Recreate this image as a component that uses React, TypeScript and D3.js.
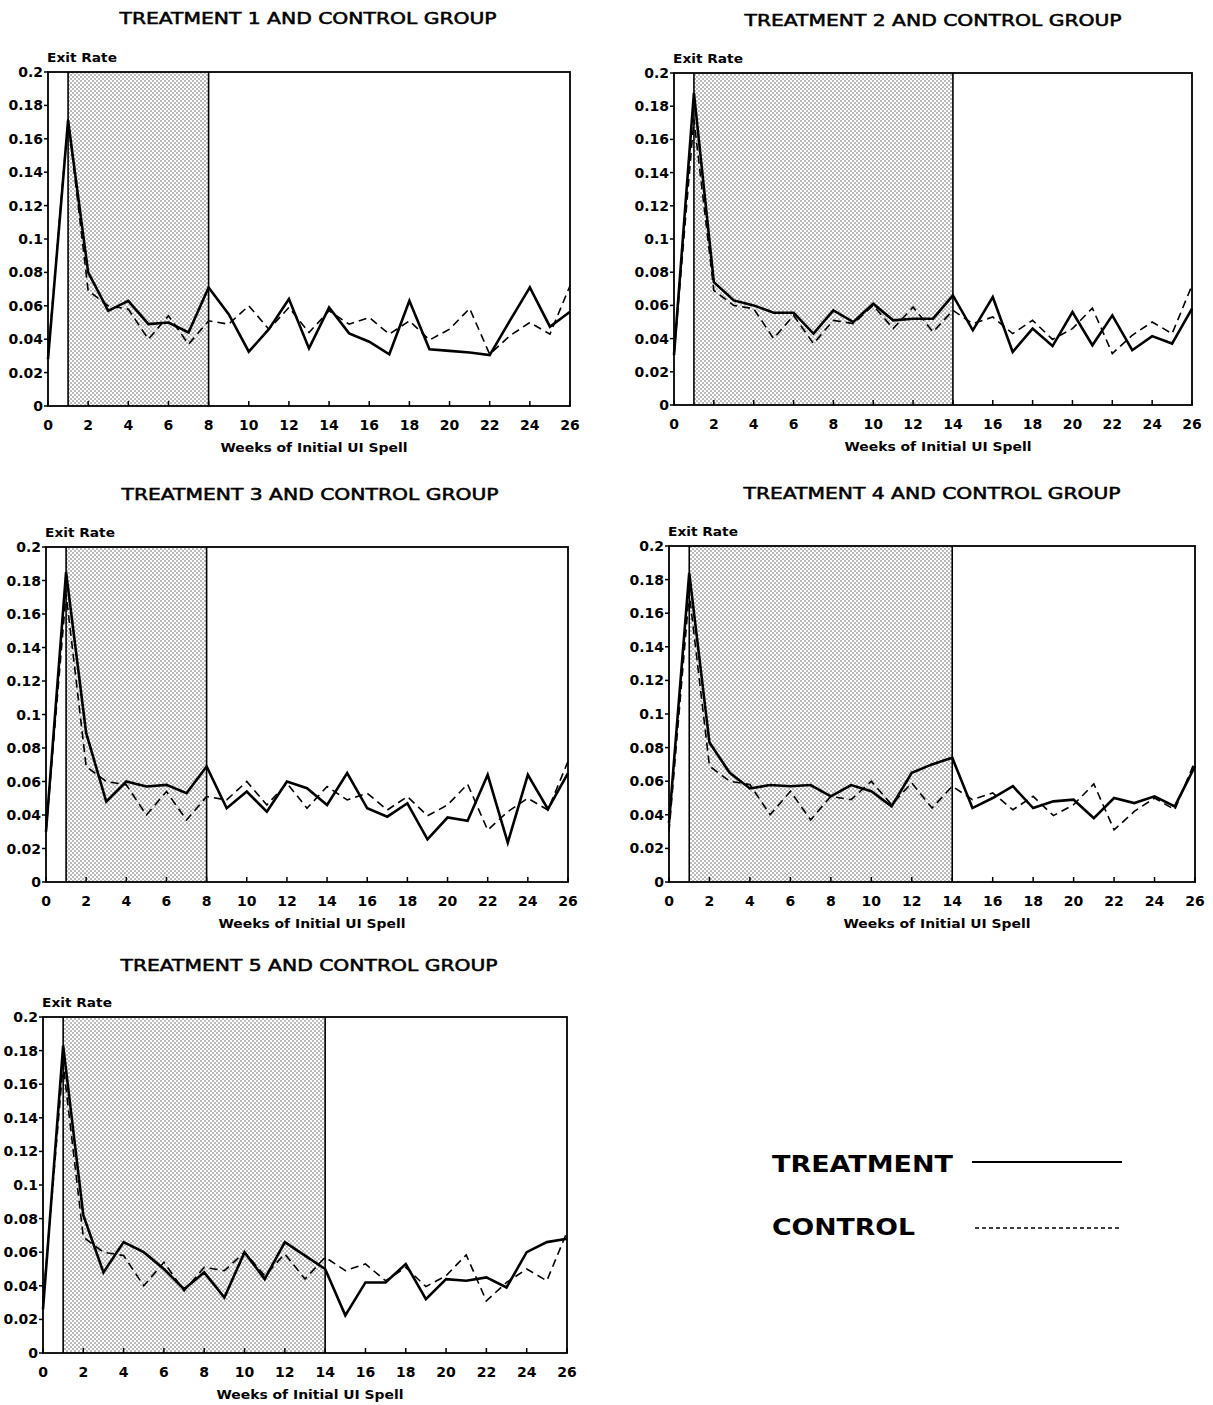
import React from "react";
import * as d3 from "d3";

const weeks = [0, 1, 2, 3, 4, 5, 6, 7, 8, 9, 10, 11, 12, 13, 14, 15, 16, 17, 18, 19, 20, 21, 22, 23, 24, 25, 26];

const control = [0.03, 0.172, 0.069, 0.06, 0.058, 0.04, 0.054, 0.037, 0.051, 0.049, 0.06, 0.046, 0.059, 0.044, 0.057, 0.049, 0.053, 0.043, 0.051, 0.0395, 0.046, 0.0584, 0.031, 0.042, 0.05, 0.043, 0.072];

const treatment1 = [0.028, 0.171, 0.08, 0.057, 0.063, 0.049, 0.05, 0.044, 0.071, 0.055, 0.0325, 0.046, 0.064, 0.0345, 0.059, 0.0435, 0.0385, 0.031, 0.063, 0.034, 0.033, 0.032, 0.0305, 0.051, 0.071, 0.0475, 0.0564];
const treatment2 = [0.03, 0.188, 0.074, 0.063, 0.06, 0.0556, 0.0556, 0.043, 0.057, 0.05, 0.061, 0.051, 0.052, 0.052, 0.066, 0.045, 0.065, 0.032, 0.046, 0.0355, 0.056, 0.036, 0.054, 0.033, 0.0415, 0.037, 0.058];
const treatment3 = [0.03, 0.185, 0.089, 0.048, 0.06, 0.057, 0.058, 0.053, 0.069, 0.044, 0.054, 0.042, 0.06, 0.056, 0.046, 0.065, 0.044, 0.039, 0.047, 0.0255, 0.0385, 0.0365, 0.064, 0.0235, 0.064, 0.0435, 0.065];
const treatment4 = [0.035, 0.184, 0.083, 0.065, 0.0557, 0.0577, 0.057, 0.0577, 0.051, 0.0577, 0.054, 0.045, 0.065, 0.07, 0.074, 0.044, 0.05, 0.057, 0.044, 0.048, 0.049, 0.038, 0.05, 0.047, 0.051, 0.045, 0.069];
const treatment5 = [0.026, 0.183, 0.082, 0.048, 0.066, 0.06, 0.05, 0.038, 0.048, 0.033, 0.06, 0.044, 0.066, 0.058, 0.05, 0.0224, 0.042, 0.042, 0.053, 0.032, 0.044, 0.043, 0.045, 0.039, 0.06, 0.066, 0.068];

const treatments = [treatment1, treatment2, treatment3, treatment4, treatment5];
const panelTitles = [
  "TREATMENT 1 AND CONTROL GROUP",
  "TREATMENT 2 AND CONTROL GROUP",
  "TREATMENT 3 AND CONTROL GROUP",
  "TREATMENT 4 AND CONTROL GROUP",
  "TREATMENT 5 AND CONTROL GROUP",
];
const shadeStart = [1, 1, 1, 1, 1];
const shadeEnd = [8, 14, 8, 14, 14];

const yTicks = [0, 0.02, 0.04, 0.06, 0.08, 0.1, 0.12, 0.14, 0.16, 0.18, 0.2];
const yTickLabels = ["0", "0.02", "0.04", "0.06", "0.08", "0.1", "0.12", "0.14", "0.16", "0.18", "0.2"];
const xTicks = [0, 2, 4, 6, 8, 10, 12, 14, 16, 18, 20, 22, 24, 26];

const yLabel = "Exit Rate";
const xLabel = "Weeks of Initial UI Spell";
const legendLabels = ["TREATMENT", "CONTROL"];

// layout (positions only)
const layouts = [
  { left: 48, right: 570, top: 72, bottom: 406, titleX: 308, titleY: 24 },
  { left: 674, right: 1192, top: 73, bottom: 405, titleX: 933, titleY: 26 },
  { left: 46, right: 568, top: 547, bottom: 882, titleX: 310, titleY: 500 },
  { left: 669, right: 1195, top: 546, bottom: 882, titleX: 932, titleY: 499 },
  { left: 43, right: 567, top: 1017, bottom: 1353, titleX: 309, titleY: 971 },
];

const FONT = "'DejaVu Sans', Verdana, sans-serif";

function Panel({ idx }: { idx: number }) {
  const L = layouts[idx];
  const x = d3.scaleLinear().domain([0, 26]).range([L.left, L.right]);
  const y = d3.scaleLinear().domain([0, 0.2]).range([L.bottom, L.top]);
  const line = d3
    .line<number>()
    .x((_, i) => x(weeks[i]))
    .y((d) => y(d));
  const tData = treatments[idx];
  const cx = (L.left + L.right) / 2;
  return (
    <g>
      <text x={L.titleX} y={L.titleY} textAnchor="middle" fontFamily={FONT} fontSize={16} stroke="#000" strokeWidth={0.55} textLength={377} lengthAdjust="spacingAndGlyphs">
        {panelTitles[idx]}
      </text>
      <text x={L.left - 1} y={L.top - 10} fontFamily={FONT} fontSize={12} fontWeight="bold" textLength={70} lengthAdjust="spacingAndGlyphs">
        {yLabel}
      </text>
      <rect
        x={x(shadeStart[idx])}
        y={y(0.2)}
        width={x(shadeEnd[idx]) - x(shadeStart[idx])}
        height={y(0) - y(0.2)}
        fill="url(#dots)"
      />
      <line x1={x(shadeStart[idx])} x2={x(shadeStart[idx])} y1={y(0)} y2={y(0.2)} stroke="#000" strokeWidth={1.6} />
      <line x1={x(shadeEnd[idx])} x2={x(shadeEnd[idx])} y1={y(0)} y2={y(0.2)} stroke="#000" strokeWidth={1.6} />
      <rect x={L.left} y={L.top} width={L.right - L.left} height={L.bottom - L.top} fill="none" stroke="#000" strokeWidth={1.8} />
      {yTicks.map((t, i) => (
        <g key={"y" + i}>
          <line x1={L.left - 4} x2={L.left} y1={y(t)} y2={y(t)} stroke="#000" strokeWidth={1.5} />
          <text x={L.left - 5} y={y(t) + 5} textAnchor="end" fontFamily={FONT} fontSize={14} fontWeight="bold">
            {yTickLabels[i]}
          </text>
        </g>
      ))}
      {xTicks.map((t, i) => (
        <g key={"x" + i}>
          <line x1={x(t)} x2={x(t)} y1={L.bottom} y2={L.bottom - 5} stroke="#000" strokeWidth={1.5} />
          <text x={x(t)} y={L.bottom + 24} textAnchor="middle" fontFamily={FONT} fontSize={14} fontWeight="bold">
            {String(t)}
          </text>
        </g>
      ))}
      <text x={cx + 5} y={L.bottom + 46} textAnchor="middle" fontFamily={FONT} fontSize={12} fontWeight="bold" textLength={187} lengthAdjust="spacingAndGlyphs">
        {xLabel}
      </text>
      <path d={line(control) || ""} fill="none" stroke="#000" strokeWidth={1.6} strokeDasharray="8,5" />
      <path d={line(tData) || ""} fill="none" stroke="#000" strokeWidth={2.6} strokeLinejoin="miter" />
    </g>
  );
}

export default function App() {
  return (
    <svg width={1213} height={1405} style={{ position: "absolute", left: 0, top: 0, background: "#fff" }}>
      <defs>
        <pattern id="dots" width={4} height={4} patternUnits="userSpaceOnUse">
          <rect width={4} height={4} fill="#fff" />
          <circle cx={1} cy={1} r={0.7} fill="#444" />
          <circle cx={3} cy={3} r={0.7} fill="#444" />
        </pattern>
      </defs>
      <rect width={1213} height={1405} fill="#fff" />
      {treatments.map((_, i) => (
        <Panel key={i} idx={i} />
      ))}
      <g>
        <text x={772} y={1172} fontFamily={FONT} fontSize={23} fontWeight="bold" textLength={181} lengthAdjust="spacingAndGlyphs">
          {legendLabels[0]}
        </text>
        <line x1={972} x2={1122} y1={1162} y2={1162} stroke="#000" strokeWidth={1.8} />
        <text x={772} y={1235} fontFamily={FONT} fontSize={23} fontWeight="bold" textLength={143} lengthAdjust="spacingAndGlyphs">
          {legendLabels[1]}
        </text>
        <line x1={975} x2={1122} y1={1228} y2={1228} stroke="#000" strokeWidth={1.3} strokeDasharray="4,3" />
      </g>
    </svg>
  );
}
